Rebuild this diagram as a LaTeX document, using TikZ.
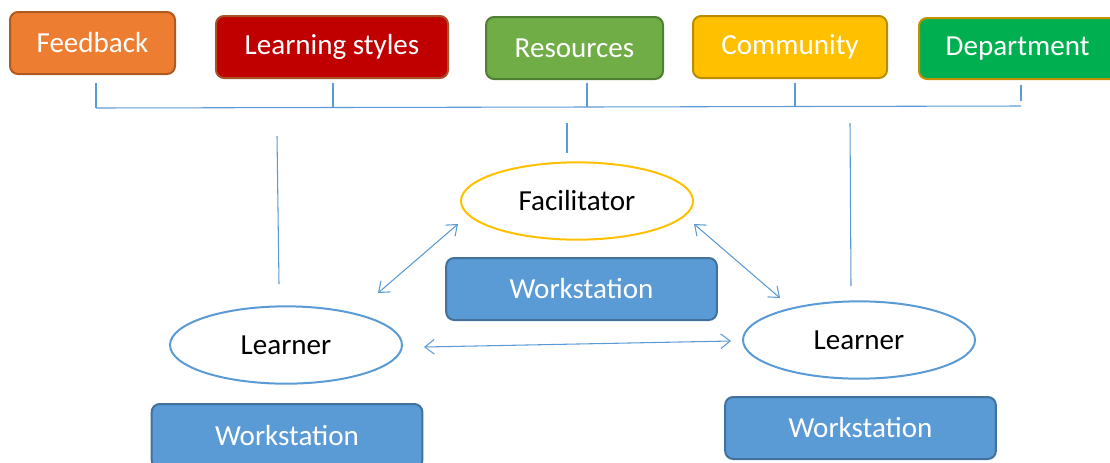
\documentclass[tikz,border=0pt]{standalone}
\usepackage{fontspec}
\setmainfont{Carlito}
\usetikzlibrary{arrows.meta,shapes.geometric}
\definecolor{cOrange}{HTML}{ED7D31}
\definecolor{cOrangeB}{HTML}{AE5A21}
\definecolor{cRed}{HTML}{C00000}
\definecolor{cRedB}{HTML}{A9522A}
\definecolor{cGreen}{HTML}{70AD47}
\definecolor{cGreenB}{HTML}{507E32}
\definecolor{cGold}{HTML}{FFC000}
\definecolor{cGoldB}{HTML}{BC8C00}
\definecolor{cDept}{HTML}{00B050}
\definecolor{cDeptB}{HTML}{C59000}
\definecolor{cBlue}{HTML}{5B9BD5}
\definecolor{cBlueB}{HTML}{41719C}
\tikzset{
  every node/.style={font=\fontsize{21.8}{24}\selectfont},
  topbox/.style={rectangle, rounded corners=6pt, line width=1.5pt, text=white, inner sep=0pt},
  wsbox/.style={rectangle, rounded corners=6pt, line width=1.5pt, fill=cBlue, draw=cBlueB, text=white,
     minimum width=203pt, minimum height=46.5pt, inner sep=0pt},
  oval/.style={ellipse, line width=1.5pt, fill=white, text=black, minimum width=174pt, minimum height=58pt, inner sep=0pt},
  link/.style={draw=cBlue, line width=0.8pt},
  dbl/.style={draw=cBlue, line width=0.8pt, {Straight Barb[length=7pt,width=11pt]}-{Straight Barb[length=7pt,width=11pt]}}
}
\begin{document}
\begin{tikzpicture}[x=0.75pt,y=-0.75pt]
\useasboundingbox (0,0) rectangle (1110,462);
% top boxes
\node[topbox, fill=cOrange, draw=cOrangeB, minimum width=123.75pt, minimum height=46.5pt] (fb) at (92.5,43) {Feedback};
\node[topbox, fill=cRed, draw=cRedB, minimum width=174pt, minimum height=46.5pt] (ls) at (332,47) {Learning styles};
\node[topbox, fill=cGreen, draw=cGreenB, minimum width=132.75pt, minimum height=46.5pt] (res) at (574.5,48) {Resources};
\node[topbox, fill=cGold, draw=cGoldB, minimum width=145.5pt, minimum height=46.5pt] (com) at (790,47) {Community};
\node[topbox, fill=cDept, draw=cDeptB, minimum width=150pt, minimum height=45.75pt, text width=150pt, align=left] (dep) at (1019,48.5) {\hspace*{20pt}Department};
% bus
\coordinate (b1) at (96,108);
\coordinate (b2) at (333,107.5);
\coordinate (b3) at (587,107);
\coordinate (b4) at (795,106.5);
\coordinate (b5) at (1021,106);
\coordinate (b5t) at (1021,85);
\coordinate (b5e) at (1021,101);
\draw[link] ([yshift=-6pt]fb.south -| b1) -- (b1);
\draw[link] ([yshift=-3pt]ls.south -| b2) -- (b2);
\draw[link] ([yshift=-2pt]res.south -| b3) -- (b3);
\draw[link] ([yshift=-3pt]com.south -| b4) -- (b4);
\draw[link] (b5t) -- (b5e);
\draw[link] (b1) -- (b2) -- (b3) -- (b4) -- (b5);
% drops
\coordinate (d1a) at (277,136);
\coordinate (d1b) at (279,284);
\coordinate (d2a) at (567,123);
\coordinate (d2b) at (567,153);
\coordinate (d3a) at (850,123);
\coordinate (d3b) at (851,286);
\draw[link] (d1a) -- (d1b);
\draw[link] (d2a) -- (d2b);
\draw[link] (d3a) -- (d3b);
% ovals and workstations
\node[oval, draw=cGold] (fac) at (577,201) {Facilitator};
\node[wsbox] (ws1) at (581.5,289) {Workstation};
\node[oval, draw=cBlue] (lrn1) at (286,345) {Learner};
\node[oval, draw=cBlue] (lrn2) at (859,340) {Learner};
\node[wsbox, minimum height=48pt] (ws2) at (287,436) {Workstation};
\node[wsbox] (ws3) at (860.5,428) {Workstation};
% arrows
\coordinate (a1) at (378,293);
\coordinate (a2) at (458,224);
\coordinate (a3) at (694,224);
\coordinate (a4) at (780,298);
\coordinate (a5) at (424,347);
\coordinate (a6) at (731,341);
\draw[dbl] (a1) -- (a2);
\draw[dbl] (a3) -- (a4);
\draw[dbl] (a5) -- (a6);
\end{tikzpicture}
\end{document}
